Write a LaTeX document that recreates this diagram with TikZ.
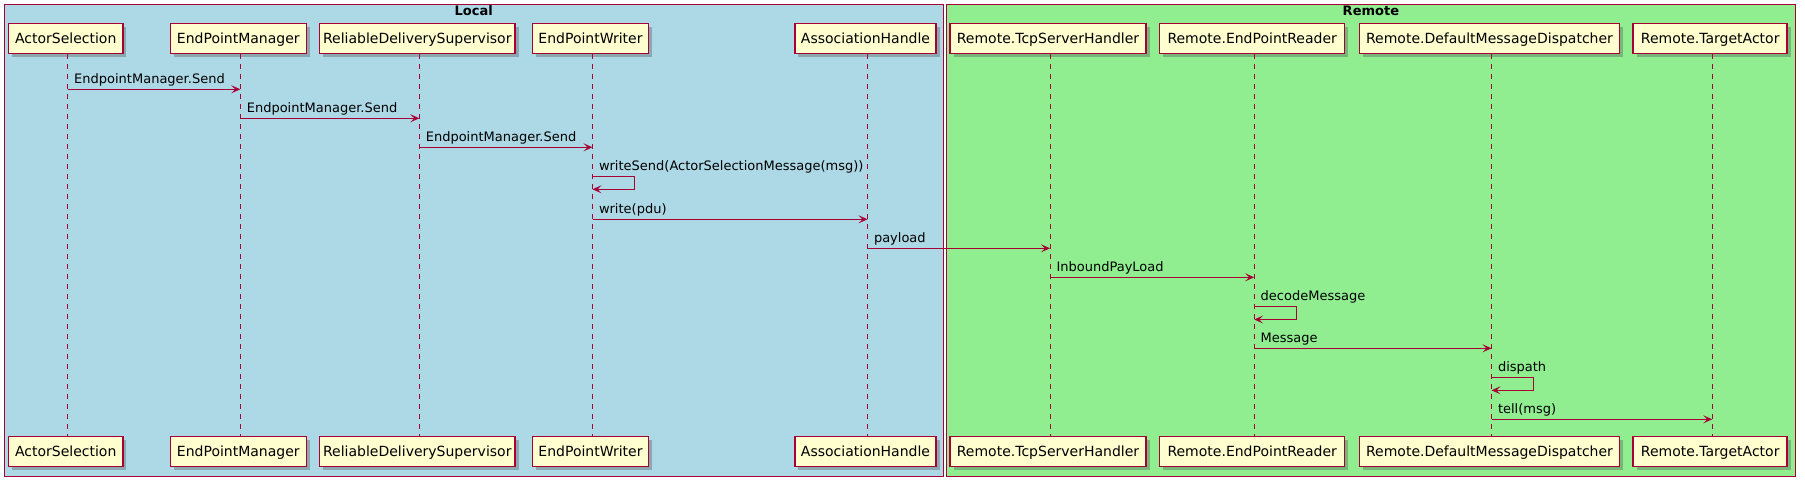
\documentclass[tikz,border=0pt]{standalone}
\usepackage{fontspec}
\setmainfont{DejaVu Sans}
\usetikzlibrary{arrows.meta}
\usetikzlibrary{calc}
\usetikzlibrary{shadows}
\definecolor{umlred}{HTML}{A80036}
\definecolor{umlbox}{HTML}{FEFECE}
\definecolor{localblue}{HTML}{ADD8E6}
\definecolor{remotegreen}{HTML}{90EE90}
\tikzset{
  actor/.style={draw=umlred, line width=1.5pt, fill=umlbox, inner xsep=1pt, inner ysep=0pt,
    minimum height=30pt, text height=10.2pt, text depth=0pt, font=\fontsize{14}{16}\selectfont,
    drop shadow={shadow xshift=3.5pt, shadow yshift=-3.5pt, fill=black!70, opacity=0.35}},
  lifeline/.style={draw=umlred, line width=1pt, dash pattern=on 5pt off 5pt},
  msgline/.style={draw=umlred, line width=1pt, -{Stealth[length=9pt,width=8pt,inset=4pt]}},
  msglabel/.style={anchor=base west, xshift=6pt, yshift=6pt, inner sep=0pt, font=\fontsize{13}{15}\selectfont},
  frame/.style={draw=umlred, line width=1pt},
}
\newcommand{\sendmsg}[4]{%
  \draw[msgline] ($(#1)+(0,#3)$) node[msglabel] {#4} -- ($(#2)+(0,#3)$);}
\newcommand{\selfmsg}[3]{%
  \draw[msgline] ($(#1)+(0,#2)$) node[msglabel] {#3} -- ++(42,0) -- ++(0,13) -- ($(#1)+(0,#2+13)$);}

\begin{document}
\begin{tikzpicture}[x=1pt, y=-1pt]
    \useasboundingbox (0,0) rectangle (1805,486);

    % boxes
    \draw [frame, fill=localblue] (4,4.7) rectangle (943.5,476.2);
    \draw [frame, fill=remotegreen] (946,4.7) rectangle (1795.7,476.2);
    \node [anchor=base, font=\bfseries\fontsize{13}{15}\selectfont] (localtitle) at (473.7,15.7) {Local};
    \node [anchor=base, font=\bfseries\fontsize{13}{15}\selectfont] (remotetitle) at (1370.9,15.7) {Remote};

    % participants
    \foreach \id/\x/\w/\name in {sel/67.7/114.4/ActorSelection, epm/240.3/136/EndPointManager,
        rds/419.3/195.7/ReliableDeliverySupervisor, epw/592.5/116.1/EndPointWriter,
        ah/867.5/141.4/AssociationHandle, tcp/1050/196/Remote.TcpServerHandler,
        epr/1254.2/185/Remote.EndPointReader, dmd/1491.5/260/Remote.DefaultMessageDispatcher,
        ta/1712.2/154/Remote.TargetActor} {
      \coordinate (\id) at (\x,0);
      \node [actor, minimum width=\w pt] (\id-top) at (\x-2,38.3) {\name};
      \node [actor, minimum width=\w pt] (\id-bot) at (\x-2,451.5) {\name};
      \draw [lifeline] ([xshift=2pt]\id-top.south) -- ([xshift=2pt]\id-bot.north);
    }

    % messages
    \sendmsg{sel}{epm}{89.3}{EndpointManager.Send}
    \sendmsg{epm}{rds}{118.3}{EndpointManager.Send}
    \sendmsg{rds}{epw}{147.3}{EndpointManager.Send}
    \selfmsg{epw}{176.3}{writeSend(ActorSelectionMessage(msg))}
    \sendmsg{epw}{ah}{219.3}{write(pdu)}
    \sendmsg{ah}{tcp}{248.3}{payload}
    \sendmsg{tcp}{epr}{277.3}{InboundPayLoad}
    \selfmsg{epr}{306.5}{decodeMessage}
    \sendmsg{epr}{dmd}{348.3}{Message}
    \selfmsg{dmd}{377.3}{dispath}
    \sendmsg{dmd}{ta}{419.3}{tell(msg)}
\end{tikzpicture}
\end{document}
